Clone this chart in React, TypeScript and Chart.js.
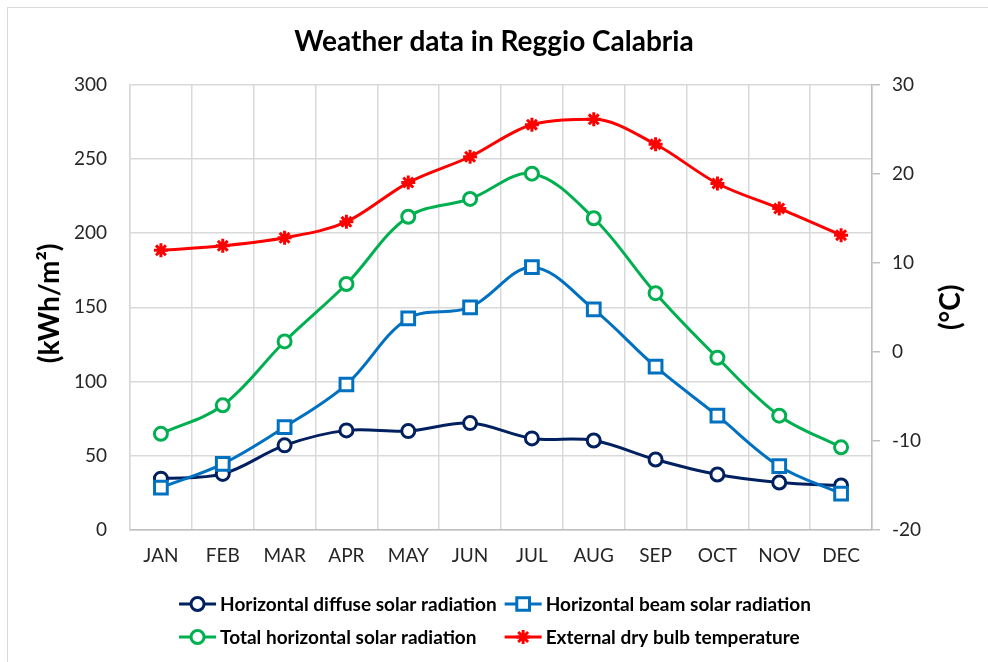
import React, { useEffect, useRef } from "react";
import { Chart, registerables } from "chart.js";
import { drawPoint } from "chart.js/helpers";

Chart.register(...registerables);

const months = ["JAN", "FEB", "MAR", "APR", "MAY", "JUN", "JUL", "AUG", "SEP", "OCT", "NOV", "DEC"];
const diffuseRadiation = [34.6, 37.8, 57, 67.1, 66.6, 72, 61.7, 60.3, 47.5, 37.4, 32, 30];
const beamRadiation = [28.6, 44.6, 69.3, 98, 142.5, 150, 177, 148.6, 110, 77, 43, 24.5];
const totalRadiation = [64.8, 84, 127, 165.7, 211, 223, 240, 210, 159.5, 116, 77, 55.7];
const dryBulbTemperature = [11.4, 11.9, 12.8, 14.6, 19.0, 21.9, 25.5, 26.1, 23.3, 18.9, 16.1, 13.1];

const leftTicks = { min: 0, max: 300, step: 50 };
const rightTicks = { min: -20, max: 30, step: 10 };

const FONT = 'Lato, "Open Sans", "DejaVu Sans", sans-serif';
const NAVY = "#002060";
const BLUE = "#0070C0";
const GREEN = "#00B050";
const RED = "#FF0000";
const GRID = "#d9d9d9";
const AXIS = "#bfbfbf";
const TICK = "#262626";

const overlay = {
  id: "overlay",
  afterDraw(chart: any) {
    const ctx = chart.ctx as CanvasRenderingContext2D;
    const area = chart.chartArea;
    const midY = (area.top + area.bottom) / 2;
    ctx.save();
    // axis titles
    ctx.fillStyle = "#000";
    ctx.font = `bold 28px ${FONT}`;
    ctx.textAlign = "center";
    ctx.textBaseline = "middle";
    ctx.save();
    ctx.translate(chart.scales.y.left + 50, midY - 4);
    ctx.rotate(-Math.PI / 2);
    ctx.fillText("(kWh/m²)", 0, 0);
    ctx.restore();
    ctx.save();
    ctx.translate(chart.scales.y1.right - 37, midY);
    ctx.rotate(-Math.PI / 2);
    ctx.fillText("(°C)", 0, 0);
    ctx.restore();

    // legend (2 x 2 grid)
    const ds = chart.data.datasets;
    ctx.font = `bold 19px ${FONT}`;
    ctx.textAlign = "left";
    const lineLen = 37;
    const gap = 4;
    const colGap = 8;
    const w = ds.map((d: any) => ctx.measureText(d.label).width);
    const col1 = lineLen + gap + Math.max(w[0], w[2]) + colGap;
    const col2 = lineLen + gap + Math.max(w[1], w[3]);
    const startX = (chart.width - (col1 + col2)) / 2 + 1;
    const rows = [chart.height - 58, chart.height - 25];
    ds.forEach((d: any, i: number) => {
      const x = startX + (i % 2) * col1;
      const y = rows[Math.floor(i / 2)];
      ctx.strokeStyle = d.borderColor;
      ctx.lineWidth = 3;
      ctx.beginPath();
      ctx.moveTo(x, y);
      ctx.lineTo(x + lineLen, y);
      ctx.stroke();
      ctx.fillStyle = d.pointBackgroundColor;
      ctx.strokeStyle = d.borderColor;
      ctx.lineWidth = d.pointBorderWidth;
      drawPoint(ctx, { pointStyle: d.pointStyle, radius: d.pointRadius, rotation: 0, borderWidth: d.pointBorderWidth } as any, x + lineLen / 2, y);
      ctx.fillStyle = "#000";
      ctx.fillText(d.label, x + lineLen + gap, y + 1);
    });
    ctx.restore();
  },
};

export default function App() {
  const ref = useRef<HTMLCanvasElement>(null);
  useEffect(() => {
    const tickFont = { family: FONT, size: 19 };
    const chart = new Chart(ref.current!, {
      type: "line",
      data: {
        labels: months,
        datasets: [
          {
            label: "Horizontal diffuse solar radiation",
            data: diffuseRadiation,
            borderColor: NAVY,
            pointBackgroundColor: "#fff",
            pointBorderColor: NAVY,
            pointStyle: "circle",
            pointRadius: 6.5,
            pointBorderWidth: 3,
            borderWidth: 3,
            tension: 0.35,
            yAxisID: "y",
            order: 3,
          },
          {
            label: "Horizontal beam solar radiation",
            data: beamRadiation,
            borderColor: BLUE,
            pointBackgroundColor: "#fff",
            pointBorderColor: BLUE,
            pointStyle: "rect",
            pointRadius: 9,
            pointBorderWidth: 3,
            borderWidth: 3,
            tension: 0.35,
            yAxisID: "y",
            order: 2,
          },
          {
            label: "Total horizontal solar radiation",
            data: totalRadiation,
            borderColor: GREEN,
            pointBackgroundColor: "#fff",
            pointBorderColor: GREEN,
            pointStyle: "circle",
            pointRadius: 6.5,
            pointBorderWidth: 3,
            borderWidth: 3,
            tension: 0.35,
            yAxisID: "y",
            order: 1,
          },
          {
            label: "External dry bulb temperature",
            data: dryBulbTemperature,
            borderColor: RED,
            pointBackgroundColor: RED,
            pointBorderColor: RED,
            pointStyle: "star",
            pointRadius: 7,
            pointBorderWidth: 3,
            borderWidth: 3,
            cubicInterpolationMode: "monotone",
            yAxisID: "y1",
            order: 0,
          },
        ],
      },
      options: {
        animation: false,
        responsive: false,
        events: [],
        layout: { padding: { left: 0, right: 0, top: 0, bottom: 87 } },
        plugins: {
          legend: { display: false },
          tooltip: { enabled: false },
          title: {
            display: true,
            text: "Weather data in Reggio Calabria",
            color: "#000",
            font: { family: FONT, size: 28, weight: "bold" },
            padding: { top: 25, bottom: 26 },
          },
        },
        scales: {
          x: {
            offset: true,
            grid: { offset: true, color: GRID, lineWidth: 1.5, drawTicks: false },
            border: { color: AXIS, width: 1.5 },
            ticks: { color: TICK, font: tickFont, padding: 14, maxRotation: 0 },
            afterFit: (s: any) => {
              s.height = 45;
            },
          },
          y: {
            position: "left",
            min: leftTicks.min,
            max: leftTicks.max,
            ticks: { stepSize: leftTicks.step, color: TICK, font: tickFont, padding: 23 },
            grid: { color: GRID, lineWidth: 1.5, drawTicks: false },
            border: { color: GRID, width: 1.5 },
            afterFit: (s: any) => {
              s.width = 130;
            },
          },
          y1: {
            position: "right",
            min: rightTicks.min,
            max: rightTicks.max,
            ticks: { stepSize: rightTicks.step, color: TICK, font: tickFont, padding: 12 },
            grid: { drawOnChartArea: false, color: AXIS, lineWidth: 1.5, tickLength: 8 },
            border: { color: AXIS, width: 1.5 },
            afterFit: (s: any) => {
              s.width = 116;
            },
          },
        },
      } as any,
      plugins: [overlay],
    });
    return () => chart.destroy();
  }, []);

  return (
    <div style={{ position: "absolute", left: 0, top: 0, width: 988, height: 662, overflow: "hidden", background: "#fff" }}>
      <canvas ref={ref} width={988} height={662} style={{ position: "absolute", left: 0, top: 0 }} />
      <div
        style={{
          position: "absolute",
          left: 7,
          top: 7,
          width: 980,
          height: 700,
          border: "1.5px solid #d9d9d9",
          pointerEvents: "none",
        }}
      />
    </div>
  );
}
